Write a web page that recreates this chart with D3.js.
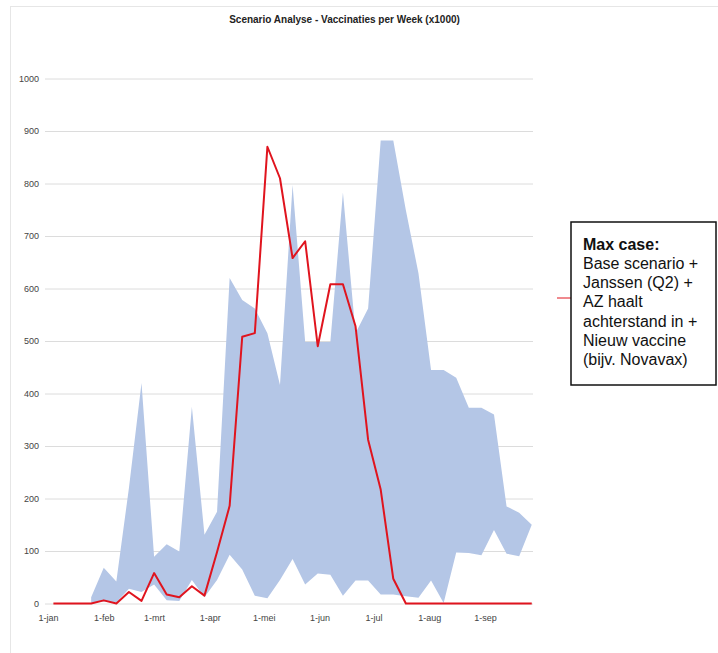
<!DOCTYPE html>
<html>
<head>
	<title>Scenario Analyse</title>
	<style>
		body { margin: 0; background: #fff; }
		svg { font-family: "Liberation Sans", Arial, sans-serif; }
	</style>
</head>
<body>

<svg id="chart" width="718" height="653"></svg>

<script src="https://d3js.org/d3.v7.min.js"></script>
<script>
	// -------------------------------------------------------------
	// Data: one point per week, Mondays from 4 jan up to 27 sep
	const weeks = d3.timeMonday.range(new Date(2021, 0, 4), new Date(2021, 8, 28))

	// Max case scenario (red line), x1000
	const maxCase = [0, 0, 0, 0, 6, 0, 22, 5, 58, 17,
		12, 33, 15, 98, 186, 508, 515, 870, 810, 658,
		690, 490, 608, 608, 528, 312, 217, 47, 0, 0,
		0, 0, 0, 0, 0, 0, 0, 0, 0]

	// Scenario band (blue area): lower and upper edge
	const bandLow = [null, null, null, 2, 4, 2, 28, 22, 36, 6,
		5, 45, 12, 45, 93, 65, 15, 10, 45, 85,
		36, 57, 55, 15, 44, 44, 17, 17, 14, 11,
		44, 1, 97, 96, 92, 140, 95, 90, 150]
	const bandHigh = [null, null, null, 12, 68, 42, 220, 420, 89, 113,
		99, 375, 131, 175, 620, 578, 562, 515, 416, 797,
		498, 498, 498, 783, 515, 562, 882, 882, 749, 629,
		445, 445, 430, 373, 373, 360, 185, 173, 150]

	const yTicks = [0, 100, 200, 300, 400, 500, 600, 700, 800, 900, 1000]
	const monthTicks = d3.range(0, 9).map(m => new Date(2021, m, 1))
	const monthLabels = ['1-jan', '1-feb', '1-mrt', '1-apr', '1-mei', '1-jun', '1-jul', '1-aug', '1-sep']

	const legendTitle = 'Max case:'
	const legendLines = ['Base scenario +', 'Janssen (Q2) +', 'AZ haalt', 'achterstand in +', 'Nieuw vaccine', '(bijv. Novavax)']

	// -------------------------------------------------------------
	const svg = d3.select('#chart')

	// faint frame of the original slide
	svg.append('line')
		.attr('x1', 10).attr('x2', 718).attr('y1', 6.5).attr('y2', 6.5)
		.attr('stroke', '#e6e6e6')
	svg.append('line')
		.attr('x1', 10.5).attr('x2', 10.5).attr('y1', 6).attr('y2', 653)
		.attr('stroke', '#e6e6e6')

	const plotLeft = 45
	const plotRight = 533

	const x = d3.scaleTime()
		.domain([new Date(2021, 0, 1), new Date(2021, 8, 1)])
		.range([48, 485])

	const y = d3.scaleLinear()
		.domain([0, 1000])
		.range([603.5, 78.5])

	// y grid + labels
	const yAxis = svg.append('g')
		.attr('transform', `translate(${plotLeft},0)`)
		.call(d3.axisLeft(y)
			.tickValues(yTicks)
			.tickFormat(d3.format('d'))
			.tickSize(-(plotRight - plotLeft))
			.tickPadding(6))
	yAxis.select('.domain').remove()
	yAxis.selectAll('line').attr('stroke', '#dcdcdc')
	yAxis.selectAll('text')
		.attr('font-size', 9)
		.attr('font-family', '"Liberation Sans", Arial, sans-serif')
		.attr('fill', '#444')

	// x labels
	const xAxis = svg.append('g')
		.attr('transform', `translate(0,${y(0)})`)
		.call(d3.axisBottom(x)
			.tickValues(monthTicks)
			.tickSize(0)
			.tickPadding(11)
			.tickFormat((d, i) => monthLabels[i]))
	xAxis.select('.domain').remove()
	xAxis.selectAll('text')
		.attr('font-size', 9)
		.attr('font-family', '"Liberation Sans", Arial, sans-serif')
		.attr('fill', '#444')

	// band
	const rows = weeks.map((d, i) => ({ date: d, lo: bandLow[i], hi: bandHigh[i], max: maxCase[i] }))

	const area = d3.area()
		.defined(d => d.hi !== null)
		.x(d => x(d.date))
		.y0(d => y(d.lo))
		.y1(d => y(d.hi))

	svg.append('path')
		.datum(rows)
		.attr('d', area)
		.attr('fill', '#b4c6e6')

	// max case line
	const line = d3.line()
		.x(d => x(d.date))
		.y(d => y(d.max))

	svg.append('path')
		.datum(rows)
		.attr('d', line)
		.attr('fill', 'none')
		.attr('stroke', '#e0141e')
		.attr('stroke-width', 2)
		.attr('stroke-linejoin', 'round')

	// title
	svg.append('text')
		.attr('x', 344.5)
		.attr('y', 23)
		.attr('text-anchor', 'middle')
		.attr('font-size', 10)
		.attr('font-weight', 'bold')
		.attr('fill', '#222')
		.text('Scenario Analyse - Vaccinaties per Week (x1000)')

	// legend callout
	svg.append('line')
		.attr('x1', 557).attr('x2', 571).attr('y1', 298).attr('y2', 298)
		.attr('stroke', '#e0141e')
		.attr('stroke-width', 1)

	svg.append('rect')
		.attr('x', 571).attr('y', 222)
		.attr('width', 145).attr('height', 163)
		.attr('fill', '#fff')
		.attr('stroke', '#111')
		.attr('stroke-width', 1.5)

	const legend = svg.append('text')
		.attr('x', 583)
		.attr('y', 249.5)
		.attr('font-size', 16)
		.attr('fill', '#111')

	legend.append('tspan')
		.attr('font-weight', 'bold')
		.text(legendTitle)

	legend.selectAll('tspan.line')
		.data(legendLines)
		.enter()
		.append('tspan')
		.attr('class', 'line')
		.attr('x', 583)
		.attr('dy', 19.3)
		.text(d => d)
</script>
</body>
</html>
